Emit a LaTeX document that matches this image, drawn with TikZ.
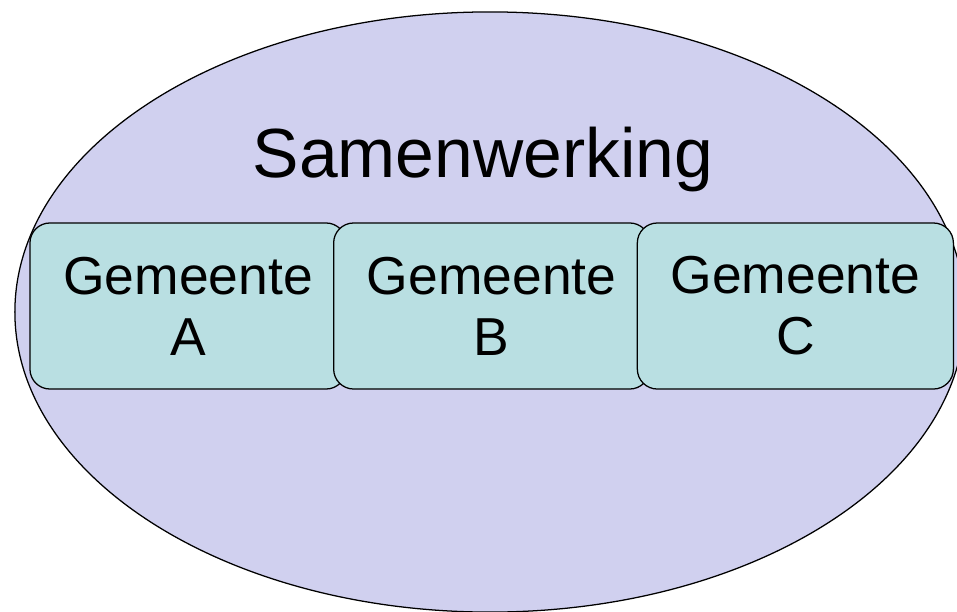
\documentclass[tikz,border=0pt]{standalone}
\usepackage{fontspec}
\setmainfont{Liberation Sans}
\usetikzlibrary{shapes.geometric, positioning}
\definecolor{kringpaars}{RGB}{208,208,239}
\definecolor{gemblauw}{RGB}{185,223,226}

\begin{document}
\begin{tikzpicture}[x=0.025cm, y=-0.025cm, node distance =7.59cm, on grid, line width=0.9pt]
      \tikzstyle{kring}=[ellipse, draw=black, fill=kringpaars, minimum width=23.75cm, minimum height=15cm, inner sep=0pt]
      \tikzstyle{gemeente}=[draw=black, fill=gemblauw, rounded corners=0.5cm, minimum width=7.9cm, minimum height=4.15cm, align=center, font=\fontsize{38}{43.5}\selectfont]
      \useasboundingbox (0,0) rectangle (957,611);
      \clip (0,0) rectangle (957,611);
      \node[kring] (S) at (490,312) {};
      \node[font=\fontsize{49.5}{56}\selectfont] (titel) at (483,160) {Samenwerking};
      \node[gemeente] (A) at (188,306) {Gemeente\\A};
      \node[gemeente] (B) [right = of A] {Gemeente\\B};
      \node[gemeente] (C) [right = of B] {Gemeente\\C};
    \end{tikzpicture}
\end{document}
